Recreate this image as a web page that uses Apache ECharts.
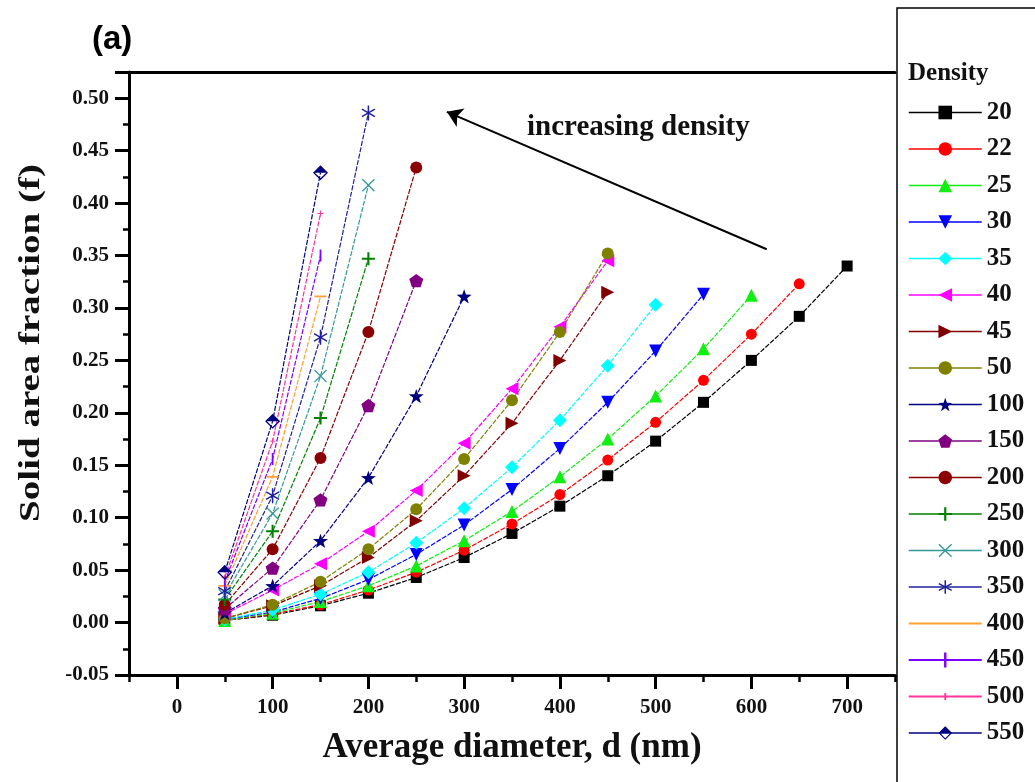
<!DOCTYPE html>
<html>
<head>
<meta charset="utf-8">
<script src="https://cdn.jsdelivr.net/npm/echarts@6/dist/echarts.min.js"></script>
<style>
  html, body { margin: 0; padding: 0; background: #fff; }
  #chart { width: 1035px; height: 782px; }
</style>
</head>
<body>
<div id="chart"></div>
<script>
const DIAMETER = [50, 100, 150, 200, 250, 300, 350, 400, 450, 500, 550, 600, 650, 700];
const DENSITY = ['20', '22', '25', '30', '35', '40', '45', '50', '100', '150', '200', '250', '300', '350', '400', '450', '500', '550'];
const X_LABELS = [0, 100, 200, 300, 400, 500, 600, 700];

const f20 = [0.002, 0.007, 0.016, 0.028, 0.043, 0.062, 0.085, 0.111, 0.140, 0.173, 0.210, 0.250, 0.292, 0.340];
const f22 = [0.002, 0.008, 0.017, 0.031, 0.048, 0.069, 0.094, 0.122, 0.155, 0.191, 0.231, 0.275, 0.323];
const f25 = [0.002, 0.009, 0.020, 0.035, 0.054, 0.078, 0.106, 0.139, 0.175, 0.216, 0.261, 0.312];
const f30 = [0.003, 0.010, 0.023, 0.041, 0.065, 0.093, 0.127, 0.166, 0.210, 0.259, 0.313];
const f35 = [0.003, 0.012, 0.027, 0.048, 0.076, 0.109, 0.148, 0.193, 0.245, 0.303];
const f40 = [0.008, 0.031, 0.056, 0.087, 0.126, 0.171, 0.223, 0.282, 0.345];
const f45 = [0.004, 0.016, 0.035, 0.062, 0.097, 0.140, 0.190, 0.250, 0.315];
const f50 = [0.004, 0.017, 0.039, 0.070, 0.108, 0.156, 0.212, 0.277, 0.352];
const f100 = [0.009, 0.035, 0.078, 0.138, 0.216, 0.311];
const f150 = [0.013, 0.052, 0.117, 0.207, 0.326];
const f200 = [0.017, 0.070, 0.157, 0.277, 0.434];
const f250 = [0.022, 0.087, 0.195, 0.347];
const f300 = [0.026, 0.104, 0.235, 0.417];
const f350 = [0.030, 0.121, 0.272, 0.486];
const f400 = [0.035, 0.139, 0.311];
const f450 = [0.039, 0.156, 0.350];
const f500 = [0.043, 0.173, 0.390];
const f550 = [0.048, 0.192, 0.429];

const SERIES_VALUES = [f20, f22, f25, f30, f35, f40, f45, f50, f100, f150, f200, f250, f300, f350, f400, f450, f500, f550];

// arrow "increasing density": tail and head in data units
const ARROW_FROM = [616, 0.356];
const ARROW_TO = [282, 0.487];

const SERIF = "'Liberation Serif', 'Times New Roman', serif";

const P_STAR = 'path://M0,-10L2.35,-3.24L9.51,-3.09L3.8,1.24L5.88,8.09L0,4L-5.88,8.09L-3.8,1.24L-9.51,-3.09L-2.35,-3.24Z';
const P_PENT = 'path://M0,-10L9.51,-3.09L5.88,8.09L-5.88,8.09L-9.51,-3.09Z';
const P_PLUS = 'path://M-1.6,-10L1.6,-10L1.6,-1.6L10,-1.6L10,1.6L1.6,1.6L1.6,10L-1.6,10L-1.6,1.6L-10,1.6L-10,-1.6L-1.6,-1.6Z';
const P_CROSS = 'path://M-10,-8.6L-8.6,-10L0,-1.4L8.6,-10L10,-8.6L1.4,0L10,8.6L8.6,10L0,1.4L-8.6,10L-10,8.6L-1.4,0Z';
const P_AST = 'path://M-1,-10L1,-10L1,10L-1,10Z M-8.16,-5.87L9.16,4.13L8.16,5.87L-9.16,-4.13Z M8.16,-5.87L9.16,-4.13L-8.16,5.87L-9.16,4.13Z';
const P_HBAR = 'path://M-10,-1.5L10,-1.5L10,1.5L-10,1.5Z';
const P_VBAR = 'path://M-1.5,-10L1.5,-10L1.5,10L-1.5,10Z';
const P_HALFDIA = 'path://M0,-10L10,0L-10,0Z M-10,0L0,10L10,0L7.6,0L0,7.6L-7.6,0Z';

// legend icons for the bar-type markers (line + mark)
const ICON_LINE = 'path://M0,7.6L73,7.6L73,9.4L0,9.4Z';
const ICON_LINE_VBAR = 'path://M0,7.6L73,7.6L73,9.4L0,9.4Z M35.3,1L37.7,1L37.7,16L35.3,16Z';
const ICON_LINE_TICK = 'path://M0,7.6L73,7.6L73,9.4L0,9.4Z M35.6,5L37.4,5L37.4,12L35.6,12Z M0,0L0.01,0Z M0,17L0.01,17Z';

const STYLES = [
  { color: '#000000', symbol: 'rect', size: 11 },
  { color: '#ff0000', symbol: 'circle', size: 11 },
  { color: '#11ee11', symbol: 'triangle', size: 13 },
  { color: '#0000ff', symbol: 'triangle', size: 13, rotate: 180 },
  { color: '#00ffff', symbol: 'diamond', size: 14 },
  { color: '#ff00ff', symbol: 'triangle', size: 13, rotate: 90 },
  { color: '#800000', symbol: 'triangle', size: 13, rotate: -90 },
  { color: '#808000', symbol: 'circle', size: 12 },
  { color: '#000080', symbol: P_STAR, size: 15 },
  { color: '#800080', symbol: P_PENT, size: 14 },
  { color: '#8b0000', symbol: 'circle', size: 12 },
  { color: '#008000', symbol: P_PLUS, size: 13 },
  { color: '#339999', symbol: P_CROSS, size: 13 },
  { color: '#2020a0', symbol: P_AST, size: 15 },
  { color: '#ffa030', symbol: P_HBAR, size: 12, icon: ICON_LINE },
  { color: '#8000ff', symbol: P_VBAR, size: 12, icon: ICON_LINE_VBAR },
  { color: '#ff3399', symbol: P_PLUS, size: 6, icon: ICON_LINE_TICK },
  { color: '#000080', symbol: P_HALFDIA, size: 15 }
];

function buildSeries() {
  const series = DENSITY.map((name, i) => {
    const st = STYLES[i];
    return {
      name,
      type: 'line',
      data: SERIES_VALUES[i].map((v, j) => [DIAMETER[j], v]),
      symbol: st.symbol,
      symbolSize: st.size,
      symbolRotate: st.rotate || 0,
      symbolKeepAspect: true,
      showAllSymbol: true,
      lineStyle: { color: st.color, width: 1.2, type: [5, 1.5] },
      itemStyle: { color: st.color },
      emphasis: { disabled: true },
      animation: false
    };
  });

  series[0].markLine = {
    silent: true,
    animation: false,
    symbol: ['none', 'arrow'],
    symbolSize: 15,
    label: { show: false },
    lineStyle: { color: '#000', width: 2, type: 'solid' },
    emphasis: { disabled: true },
    data: [[{ coord: ARROW_FROM }, { coord: ARROW_TO }]]
  };
  return series;
}

function legendData() {
  return DENSITY.map((name, i) => (STYLES[i].icon ? { name, icon: STYLES[i].icon } : { name }));
}

const chart = echarts.init(document.getElementById('chart'));

const option = {
  backgroundColor: '#fff',
  animation: false,
  grid: { left: 129, right: 140, top: 72, bottom: 107 },
  xAxis: [
    {
      type: 'value',
      position: 'bottom',
      min: -50,
      max: 750,
      interval: 50,
      name: 'Average diameter, d (nm)',
      nameLocation: 'middle',
      nameGap: 55,
      nameTextStyle: { fontFamily: SERIF, fontWeight: 'bold', fontSize: 35, color: '#111' },
      axisLine: { onZero: false, lineStyle: { color: '#000', width: 3 } },
      axisTick: { length: 7, lineStyle: { color: '#000', width: 2.5 } },
      axisLabel: {
        margin: 22,
        fontFamily: SERIF,
        fontWeight: 'bold',
        fontSize: 21,
        color: '#111',
        formatter: v => (X_LABELS.indexOf(v) >= 0 ? String(v) : '')
      },
      splitLine: { show: false }
    },
    {
      type: 'value',
      position: 'bottom',
      min: -50,
      max: 750,
      axisLine: { show: false, onZero: false },
      axisTick: { show: true, customValues: X_LABELS, length: 14, lineStyle: { color: '#000', width: 3 } },
      axisLabel: { show: false },
      splitLine: { show: false }
    },
    {
      type: 'value',
      position: 'top',
      min: -50,
      max: 750,
      axisLine: { onZero: false, lineStyle: { color: '#000', width: 3 } },
      axisTick: { show: false },
      axisLabel: { show: false },
      splitLine: { show: false }
    }
  ],
  yAxis: {
    type: 'value',
    min: -0.05,
    max: 0.525,
    interval: 0.05,
    axisLine: { onZero: false, lineStyle: { color: '#000', width: 3 } },
    axisTick: { length: 14, lineStyle: { color: '#000', width: 3 } },
    minorTick: { show: true, splitNumber: 2, length: 6, lineStyle: { color: '#000', width: 2.5 } },
    axisLabel: {
      margin: 20,
      showMaxLabel: false,
      fontFamily: SERIF,
      fontWeight: 'bold',
      fontSize: 21,
      color: '#111',
      formatter: v => v.toFixed(2)
    },
    splitLine: { show: false },
    minorSplitLine: { show: false }
  },
  legend: {
    orient: 'vertical',
    left: 908,
    top: 100,
    padding: 0,
    itemWidth: 73,
    itemHeight: 17,
    itemGap: 11.5,
    selectedMode: false,
    lineStyle: { width: 1.5, type: 'solid' },
    textStyle: { fontFamily: SERIF, fontWeight: 'bold', fontSize: 25, color: '#111' },
    data: legendData()
  },
  graphic: [
    {
      type: 'rect',
      shape: { x: 897, y: 8, width: 150, height: 800 },
      style: { fill: 'none', stroke: '#000', lineWidth: 1.5 },
      silent: true
    },
    {
      type: 'text',
      left: 908,
      top: 61,
      style: { text: 'Density', font: 'bold 25px ' + SERIF, fill: '#111' },
      silent: true
    },
    {
      type: 'text',
      left: 527,
      top: 113,
      style: { text: 'increasing density', font: 'bold 29px ' + SERIF, fill: '#111' },
      silent: true
    },
    {
      type: 'text',
      left: 92,
      top: 23,
      style: { text: '(a)', font: "bold 33px 'Liberation Sans', Arial, sans-serif", fill: '#000' },
      silent: true
    },
    {
      type: 'text',
      x: 31,
      y: 343,
      rotation: Math.PI / 2,
      scaleX: 1.3,
      style: {
        text: 'Solid area fraction (f)',
        font: 'bold 30px ' + SERIF,
        fill: '#111',
        align: 'center',
        verticalAlign: 'middle'
      },
      silent: true
    }
  ],
  series: buildSeries()
};

chart.setOption(option);
</script>
</body>
</html>
